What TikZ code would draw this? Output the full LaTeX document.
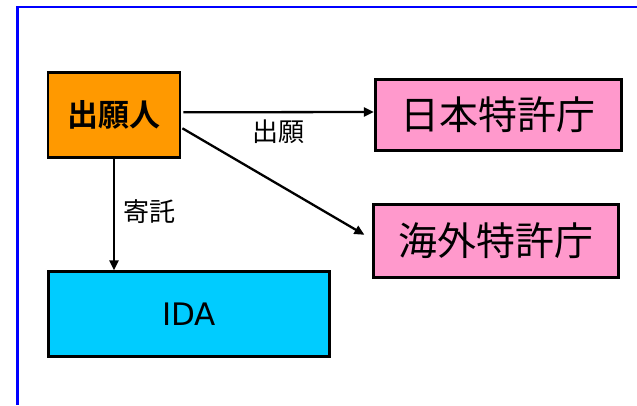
\documentclass[tikz,border=0pt]{standalone}
\usepackage{fontspec}
\setmainfont{DejaVu Sans}
\newfontfamily\jp{Noto Sans CJK JP}[BoldFont={Noto Sans CJK JP Bold}]
\usetikzlibrary{arrows.meta}
\definecolor{frameblue}{HTML}{0000FF}
\definecolor{boxorange}{HTML}{FF9900}
\definecolor{boxpink}{HTML}{FF99CC}
\definecolor{boxcyan}{HTML}{00CCFF}
\tikzset{
  box/.style={draw=black, line width=2.8pt, inner sep=0pt, align=center},
  conn/.style={line width=2.3pt, -{Triangle[length=10pt,width=9pt]}},
  lbl/.style={inner sep=0pt, font=\jp\fontsize{26}{29}\selectfont}
}
\begin{document}
\begin{tikzpicture}[x=1pt,y=-1pt]
\useasboundingbox (0,0) rectangle (637,405);
\fill[white] (0,0) rectangle (637,405);
\draw[frameblue, line width=2.2pt] (637,7) -- (17.5,7) -- (17.5,405);
\node[box, fill=boxorange, minimum width=132pt, minimum height=85pt,
  font=\jp\bfseries\fontsize{31}{34}\selectfont] (appl) at (114,115.3) {出願人};
\node[box, fill=boxpink, minimum width=246pt, minimum height=71pt,
  font=\jp\fontsize{39}{43}\selectfont] (jpo) at (498.3,115) {日本特許庁};
\node[box, fill=boxpink, minimum width=245pt, minimum height=73pt,
  font=\jp\fontsize{39}{43}\selectfont] (fpo) at (496.3,240.8) {海外特許庁};
\node[box, fill=boxcyan, minimum width=281pt, minimum height=84.6pt,
  font=\fontsize{31}{35}\selectfont] (ida) at (189,314) {IDA};
\coordinate (fpoend) at ([xshift=-8pt,yshift=6pt]fpo.west);
\draw[conn] ([yshift=3pt,xshift=2pt]appl.east) -- ([yshift=3pt]jpo.west) ;
\draw[conn] ([yshift=-13pt,xshift=1pt]appl.east) -- (fpoend);
\draw[conn] (appl.south) -- (appl.south |- ida.north);
\node[lbl] (l1) at (278,132) {出願};
\node[lbl] (l2) at (149,212) {寄託};
\end{tikzpicture}
\end{document}
